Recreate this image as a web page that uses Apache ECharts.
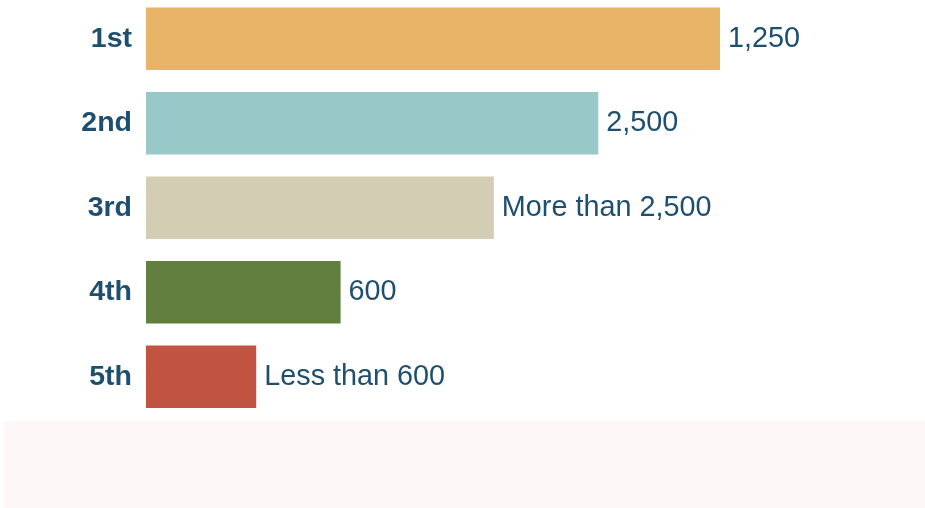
<!DOCTYPE html>
<html>
<head>
<meta charset="utf-8">
<style>
  html, body { margin: 0; padding: 0; background: #ffffff; }
  #chart { width: 925px; height: 508px; }
</style>
<script src="https://cdn.jsdelivr.net/npm/echarts@6/dist/echarts.min.js"></script>
</head>
<body>
<div id="chart"></div>
<script>
// Ranked groups, top to bottom
const categories = ['1st', '2nd', '3rd', '4th', '5th'];
// Relative bar size of each rank (longest = 100)
const values = [100, 78.8, 60.6, 33.9, 19.2];
// Text shown at the end of each bar
const barLabels = ['1,250', '2,500', 'More than 2,500', '600', 'Less than 600'];
const barColors = ['#e8b468', '#98c8c8', '#d3ceb3', '#627f40', '#c05440'];

const FONT = '"Liberation Sans", Arial, Helvetica, sans-serif';
const TEXT_COLOR = '#1f4f6e';

const chart = echarts.init(document.getElementById('chart'), null, { renderer: 'canvas' });

chart.setOption({
  animation: false,
  backgroundColor: '#ffffff',
  graphic: [{
    type: 'rect',
    left: 4, top: 421,
    shape: { width: 921, height: 87 },
    style: { fill: '#fdf8f7' },
    silent: true,
    z: -1
  }],
  grid: {
    left: 146, top: -3.5, width: 574, height: 422.5,
    containLabel: false,
    outerBoundsMode: 'none'
  },
  xAxis: {
    type: 'value',
    min: 0,
    max: 100,
    show: false
  },
  yAxis: {
    type: 'category',
    data: categories,
    inverse: true,
    axisLine: { show: false },
    axisTick: { show: false },
    splitLine: { show: false },
    axisLabel: {
      margin: 14,
      color: TEXT_COLOR,
      fontFamily: FONT,
      fontWeight: 'bold',
      fontSize: 28.5
    }
  },
  series: [{
    type: 'bar',
    barWidth: 62.5,
    data: values.map((v, i) => ({
      value: v,
      itemStyle: { color: barColors[i] },
      label: { formatter: barLabels[i] }
    })),
    label: {
      show: true,
      position: 'right',
      distance: 8,
      color: TEXT_COLOR,
      fontFamily: FONT,
      fontSize: 28.8
    }
  }]
});
</script>
</body>
</html>
